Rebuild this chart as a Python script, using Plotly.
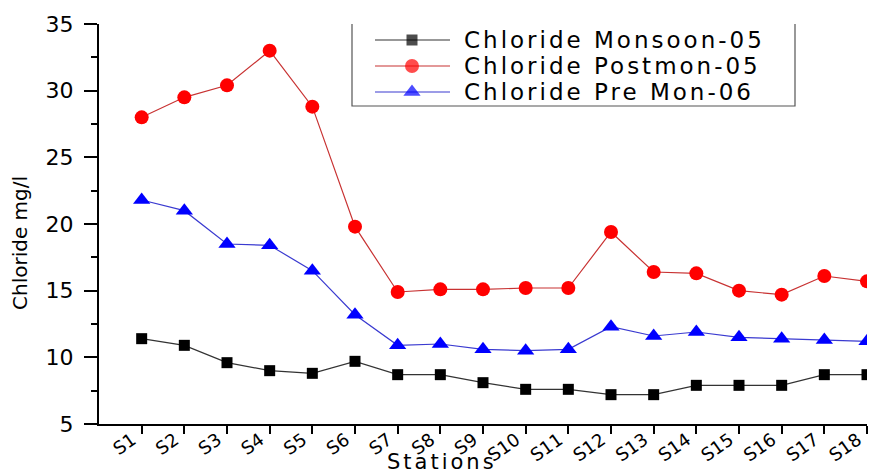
import plotly.graph_objects as go

# Chloride concentration (mg/l) at each sampling station
stations = [f"S{i}" for i in range(1, 19)]
monsoon_05 = [11.4, 10.9, 9.6, 9.0, 8.8, 9.7, 8.7, 8.7, 8.1, 7.6, 7.6, 7.2, 7.2, 7.9, 7.9, 7.9, 8.7, 8.7]
postmon_05 = [28.0, 29.5, 30.4, 33.0, 28.8, 19.8, 14.9, 15.1, 15.1, 15.2, 15.2, 19.4, 16.4, 16.3, 15.0, 14.7, 16.1, 15.7]
premon_06 = [21.8, 21.0, 18.5, 18.4, 16.5, 13.2, 10.9, 11.0, 10.6, 10.5, 10.6, 12.3, 11.6, 11.9, 11.5, 11.4, 11.3, 11.2]

series_names = ["Chloride Monsoon-05", "Chloride Postmon-05", "Chloride Pre Mon-06"]
series_values = [monsoon_05, postmon_05, premon_06]
line_colors = ["#333333", "#c83232", "#3a3ad0"]
marker_colors = ["#000000", "#ff0000", "#0000ff"]
symbols = ["square", "circle", "triangle-up"]
marker_sizes = [11, 14, 15]

W, H = 872, 474
L, R, T, B = 99, 5, 24, 50
PW, PH = W - L - R, H - T - B

FONT = "DejaVu Sans"
x_pos = list(range(1, len(stations) + 1))
# trailing no-break spaces keep the rotated labels clear of their ticks
tick_text = [s + "\u00a0\u00a0" for s in stations]


def px_to_paper(px, py):
    """Convert page pixel coordinates to paper coordinates of the plot area."""
    return (px - L) / PW, (H - B - py) / PH


fig = go.Figure()
for name, vals, lc, mc, sym, ms in zip(series_names, series_values, line_colors,
                                        marker_colors, symbols, marker_sizes):
    fig.add_trace(go.Scatter(
        x=x_pos, y=vals, name=name, mode="lines+markers",
        line=dict(color=lc, width=1.2),
        marker=dict(symbol=sym, size=ms, color=mc, line=dict(width=0)),
        showlegend=False, cliponaxis=True,
    ))

# Boxed key drawn on a pixel-scaled overlay axis
box_x0, box_x1, box_y0, box_y1 = 352, 795, 23, 106
row_y = [40, 66, 92]
for name, lc, mc, sym, ms, ry in zip(series_names, line_colors, marker_colors,
                                     symbols, marker_sizes, row_y):
    fig.add_trace(go.Scatter(
        x=[375, 412, 450], y=[ry, ry, ry], mode="lines+markers",
        line=dict(color=lc, width=1.2),
        marker=dict(symbol=sym, size=[0, ms, 0], color=mc, line=dict(width=0)),
        xaxis="x2", yaxis="y2", showlegend=False, hoverinfo="skip",
    ))
    fig.add_annotation(
        x=462, y=ry, xref="x2", yref="y2",
        text=f'<span style="letter-spacing:3px">{name}</span>',
        showarrow=False, xanchor="left", yanchor="middle",
        font=dict(family=FONT, size=23, color="#000000"),
    )
fig.add_shape(type="rect", xref="x2", yref="y2",
              x0=box_x0, x1=box_x1, y0=box_y0, y1=box_y1,
              line=dict(color="#555555", width=1.2), fillcolor="rgba(0,0,0,0)")

# Axis titles
tx, ty = px_to_paper(20, 243)
fig.add_annotation(
    x=tx, y=ty, xref="paper", yref="paper", text="Chloride mg/l", showarrow=False,
    textangle=-90, xanchor="center", yanchor="middle",
    font=dict(family=FONT, size=20, color="#000000"),
)
sx, sy = px_to_paper(442, 462)
fig.add_annotation(
    x=sx, y=sy, xref="paper", yref="paper",
    text='<span style="letter-spacing:3px">Stations</span>', showarrow=False,
    xanchor="center", yanchor="middle",
    font=dict(family=FONT, size=21, color="#000000"),
)

fig.update_layout(
    width=W, height=H,
    margin=dict(l=L, r=R, t=T, b=B, autoexpand=False),
    paper_bgcolor="white", plot_bgcolor="white",
    font=dict(family=FONT, color="#000000"),
    xaxis=dict(
        range=[0, 18], tickmode="array", tickvals=x_pos, ticktext=tick_text,
        tickangle=-35, tickfont=dict(family=FONT, size=18),
        ticks="outside", ticklen=8, tickwidth=2, tickcolor="#000000",
        ticklabelstandoff=-18, ticklabeloverflow="allow", automargin=False,
        showline=True, linewidth=2, linecolor="#000000",
        showgrid=False, zeroline=False,
    ),
    yaxis=dict(
        range=[5, 35], tickmode="linear", tick0=5, dtick=5,
        tickfont=dict(family=FONT, size=22),
        ticks="outside", ticklen=13, tickwidth=2, tickcolor="#000000",
        ticklabelstandoff=6, automargin=False,
        minor=dict(dtick=2.5, ticks="outside", ticklen=6, tickwidth=2, tickcolor="#000000"),
        showline=True, linewidth=2, linecolor="#000000",
        showgrid=False, zeroline=False,
    ),
    xaxis2=dict(overlaying="x", anchor="y2", range=[L, W - R], visible=False,
                fixedrange=True, automargin=False),
    yaxis2=dict(overlaying="y", anchor="x2", range=[H - B, T], visible=False,
                fixedrange=True, automargin=False),
)

fig.write_html("out.html")
